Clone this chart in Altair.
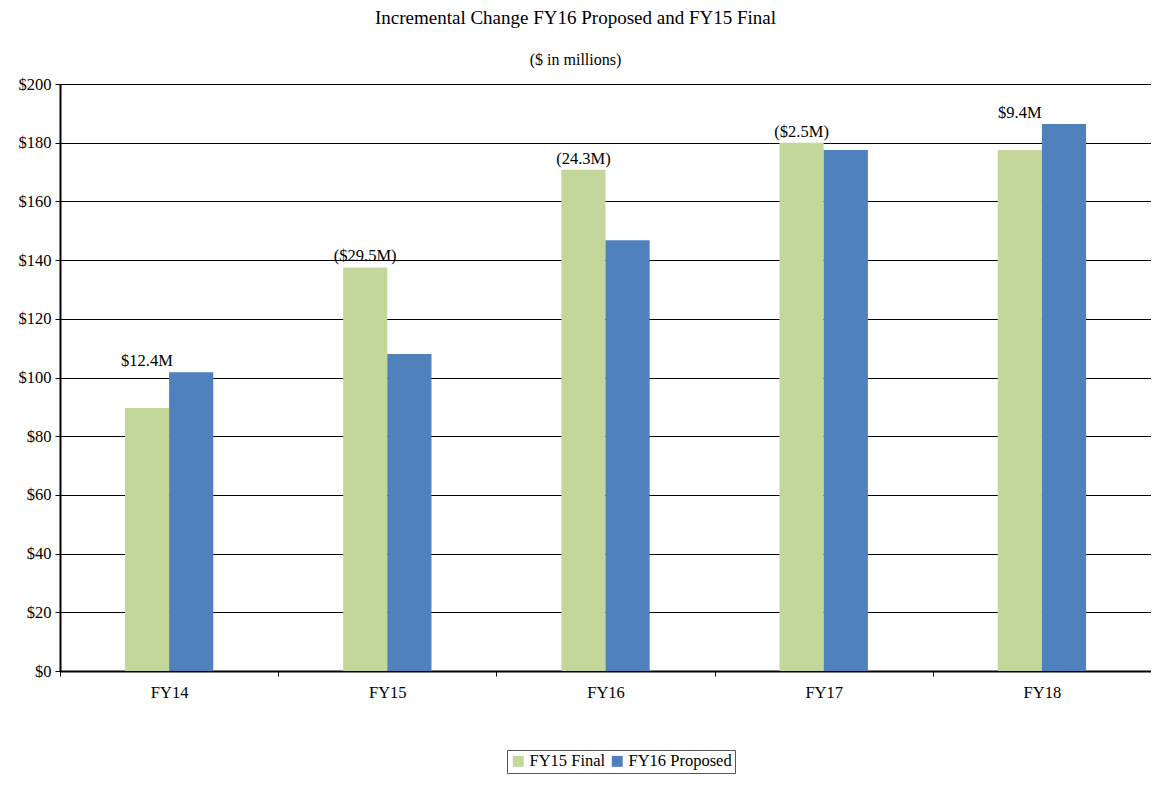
import altair as alt
import pandas as pd

years = ["FY14", "FY15", "FY16", "FY17", "FY18"]
final_vals = [89.6, 137.5, 170.8, 180.0, 177.5]
proposed_vals = [101.8, 108.0, 146.8, 177.5, 186.4]
labels = ["$12.4M", "($29.5M)", "(24.3M)", "($2.5M)", "$9.4M"]
series = ["FY15 Final", "FY16 Proposed"]
colors = ["#c4d79b", "#4f81bd"]
y_ticks = [0, 20, 40, 60, 80, 100, 120, 140, 160, 180, 200]
offset_domain = ["_padL"] + series + ["_padR"]

rows = []
for y, f, p in zip(years, final_vals, proposed_vals):
    rows.append({"Year": y, "Series": series[0], "Value": f})
    rows.append({"Year": y, "Series": series[1], "Value": p})
df = pd.DataFrame(rows)

lab_df = pd.DataFrame({
    "Year": years,
    "Series": [series[0]] * len(years),
    "Top": [max(f, p) for f, p in zip(final_vals, proposed_vals)],
    "Label": labels,
})

FONT = "Liberation Serif"
FS = 16.5

x_enc = alt.X("Year:N", sort=years, title=None,
              scale=alt.Scale(paddingInner=0, paddingOuter=0),
              axis=alt.Axis(labelAngle=0, tickBand="extent", domainColor="black",
                            domainWidth=2, tickColor="black", tickSize=5,
                            labelPadding=8, grid=False))
xoff = alt.XOffset("Series:N",
                   scale=alt.Scale(domain=offset_domain, paddingInner=0, paddingOuter=0.47))

bars = alt.Chart(df).mark_bar().encode(
    x=x_enc,
    xOffset=xoff,
    y=alt.Y("Value:Q", title=None,
            scale=alt.Scale(domain=[0, 200], nice=False),
            axis=alt.Axis(values=y_ticks, format="$,.0f", grid=True, gridColor="black",
                          gridWidth=1, gridOpacity=1, domainColor="black", domainWidth=2,
                          tickColor="black", tickSize=5, labelPadding=4)),
    color=alt.Color("Series:N", sort=series,
                    scale=alt.Scale(domain=series, range=colors),
                    legend=alt.Legend(title=None, orient="none", direction="horizontal",
                                      legendX=447, legendY=666, strokeColor="#555555",
                                      padding=3, symbolType="square", symbolSize=120,
                                      symbolStrokeWidth=0, columnPadding=3, labelOffset=3)),
)

text = alt.Chart(lab_df).mark_text(font=FONT, fontSize=FS, color="black",
                                   baseline="bottom", dy=-3).encode(
    x=alt.X("Year:N", sort=years),
    xOffset=alt.XOffset("Series:N"),
    y=alt.Y("Top:Q"),
    text="Label:N",
)

chart = alt.layer(bars, text).properties(
    width=1091,
    height=587,
    autosize=alt.AutoSizeParams(type="none"),
    padding={"left": 52, "top": 76, "right": 0, "bottom": 104},
    title=alt.TitleParams(
        "Incremental Change FY16 Proposed and FY15 Final",
        subtitle="($ in millions)",
        anchor="middle", dx=-30, offset=8,
    ),
).configure(font=FONT).configure_view(stroke=None).configure_axis(
    labelFont=FONT, labelFontSize=FS, labelColor="black"
).configure_legend(
    labelFont=FONT, labelFontSize=FS, labelColor="black"
).configure_title(
    font=FONT, fontSize=19, fontWeight="normal", color="black",
    subtitleFont=FONT, subtitleFontSize=16, subtitleColor="black", subtitlePadding=24,
)

chart.save("out.html", embed_options={"renderer": "svg", "actions": False})
